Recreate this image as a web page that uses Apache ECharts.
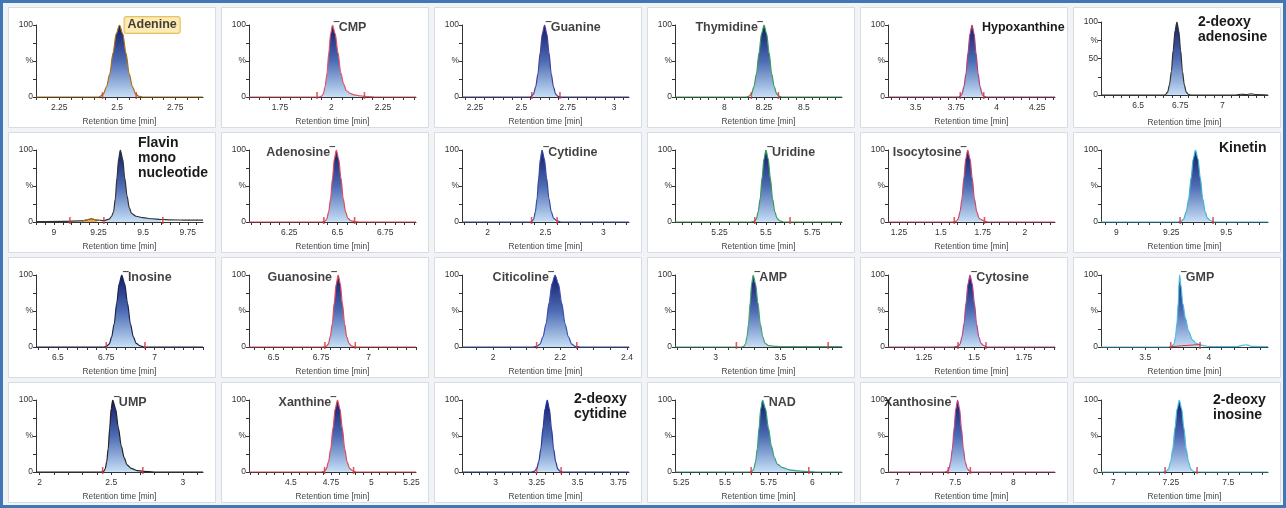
<!DOCTYPE html>
<html><head><meta charset="utf-8">
<script src="https://cdn.jsdelivr.net/npm/echarts@6/dist/echarts.min.js"></script>
<style>html,body{margin:0;padding:0;background:#f1f3f6}#c{width:1286px;height:508px}</style>
</head><body><div id="c"></div>
<script>
// ---------- DATA ----------
const compounds = ['Adenine','CMP','Guanine','Thymidine','Hypoxanthine','2-deoxy\nadenosine',
  'Flavin\nmono\nnucleotide','Adenosine','Cytidine','Uridine','Isocytosine','Kinetin',
  'Inosine','Guanosine','Citicoline','AMP','Cytosine','GMP',
  'UMP','Xanthine','2-deoxy\ncytidine','NAD','Xanthosine','2-deoxy\ninosine'];

const xMins = [2.15,1.6,2.18,7.69,3.33,6.28, 8.9,6.04,1.78,5.01,1.185,8.93, 6.387,6.37,1.907,2.685,1.07,3.153, 1.975,4.24,2.794,5.214,6.92,6.946];
const xMaxs = [2.87,2.41,3.08,8.74,4.36,7.27, 9.835,6.91,3.22,5.91,2.18,9.69, 7.25,7.25,2.406,3.977,1.905,4.463, 3.14,5.278,3.815,6.17,8.36,7.673];

const tickLabels = [
  [2.25,2.5,2.75],[1.75,2,2.25],[2.25,2.5,2.75,3],[8,8.25,8.5],[3.5,3.75,4,4.25],[6.5,6.75,7],
  [9,9.25,9.5,9.75],[6.25,6.5,6.75],[2,2.5,3],[5.25,5.5,5.75],[1.25,1.5,1.75,2],[9,9.25,9.5],
  [6.5,6.75,7],[6.5,6.75,7],[2,2.2,2.4],[3,3.5],[1.25,1.5,1.75],[3.5,4],
  [2,2.5,3],[4.5,4.75,5,5.25],[3,3.25,3.5,3.75],[5.25,5.5,5.75,6],[7,7.5,8],[7,7.25,7.5]];
const minorSteps = [0.05,0.05,0.05,0.05,0.05,0.05, 0.05,0.05,0.1,0.05,0.05,0.05, 0.05,0.05,0.05,0.1,0.05,0.1, 0.1,0.05,0.05,0.05,0.1,0.05];

const trAdenine = [[2.15,0],[2.42,0],[2.426,1],[2.44,4],[2.454,14],[2.468,32],[2.482,61],[2.496,88],[2.51,100],[2.524,88],[2.538,61],[2.552,32],[2.566,14],[2.58,4],[2.594,1],[2.61,0],[2.87,0]];
const trCMP = [[1.6,0],[1.94,0],[1.951,1],[1.96,4],[1.969,14],[1.978,32],[1.987,61],[1.996,88],[2.005,100],[2.018,88],[2.032,61],[2.045,34],[2.059,18],[2.072,9],[2.09,5],[2.11,3],[2.14,1.5],[2.18,0.5],[2.22,0],[2.41,0]];
const trGuanine = [[2.18,0],[2.545,0],[2.553,1],[2.565,4],[2.577,14],[2.589,32],[2.601,61],[2.613,88],[2.625,100],[2.637,88],[2.649,61],[2.661,32],[2.673,14],[2.685,4],[2.697,1],[2.71,0],[3.08,0]];
const trThymidine = [[7.69,0],[8.14,0],[8.154,1],[8.17,4],[8.186,14],[8.202,32],[8.218,61],[8.234,88],[8.25,100],[8.266,88],[8.282,61],[8.298,32],[8.314,14],[8.33,4],[8.346,1],[8.36,0],[8.74,0]];
const trHypoxanthine = [[3.33,0],[3.765,0],[3.773,1],[3.786,4],[3.798,14],[3.811,32],[3.823,61],[3.836,88],[3.848,100],[3.861,88],[3.873,61],[3.886,32],[3.898,14],[3.911,4],[3.923,1],[3.935,0],[4.36,0]];
const trDeoxyAdenosine = [[6.28,0],[6.655,0],[6.664,1],[6.675,4],[6.686,14],[6.697,32],[6.708,61],[6.719,88],[6.73,100],[6.741,88],[6.752,61],[6.763,32],[6.774,14],[6.785,4],[6.796,1],[6.81,0],[7.08,0],[7.11,1],[7.14,0.5],[7.17,1.5],[7.2,0.5],[7.27,0]];
const trFlavin = [[8.9,0.5],[9.05,1],[9.15,1.5],[9.18,2.5],[9.21,4.5],[9.24,2.5],[9.28,2],[9.31,4],[9.323,8],[9.334,14],[9.344,32],[9.353,61],[9.363,88],[9.372,100],[9.385,88],[9.397,61],[9.41,36],[9.422,20],[9.435,12],[9.46,8],[9.5,6],[9.55,4.5],[9.6,3.5],[9.65,3],[9.75,2.5],[9.835,2.5]];
const trAdenosine = [[6.04,0],[6.42,0],[6.435,1],[6.445,4],[6.455,14],[6.465,32],[6.475,61],[6.485,88],[6.495,100],[6.507,88],[6.519,61],[6.531,32],[6.543,14],[6.555,5],[6.57,2],[6.59,0.5],[6.62,0],[6.91,0]];
const trCytidine = [[1.78,0],[2.37,0],[2.383,1],[2.398,4],[2.412,14],[2.427,32],[2.441,61],[2.456,88],[2.47,100],[2.49,88],[2.51,61],[2.53,32],[2.55,14],[2.57,5],[2.6,1.5],[2.64,0],[3.22,0]];
const trUridine = [[5.01,0],[5.42,0],[5.437,1],[5.448,4],[5.458,14],[5.469,32],[5.479,61],[5.49,88],[5.5,100],[5.512,88],[5.524,61],[5.536,32],[5.548,14],[5.56,5],[5.575,1.5],[5.6,0],[5.91,0]];
const trIsocytosine = [[1.185,0],[1.57,0],[1.591,1],[1.6025,4],[1.614,14],[1.6255,32],[1.637,61],[1.6485,88],[1.66,100],[1.6735,88],[1.687,61],[1.7,32],[1.714,14],[1.728,5],[1.745,3],[1.76,1],[1.78,0],[2.18,0]];
const trKinetin = [[8.93,0],[9.28,0],[9.295,1],[9.306,4],[9.318,14],[9.329,32],[9.34,61],[9.35,88],[9.36,100],[9.371,88],[9.382,61],[9.393,32],[9.404,14],[9.415,5],[9.43,1.5],[9.45,0],[9.69,0]];
const trInosine = [[6.387,0],[6.74,0],[6.752,1],[6.765,4],[6.778,14],[6.791,32],[6.804,61],[6.817,88],[6.83,100],[6.845,88],[6.86,61],[6.875,32],[6.89,14],[6.905,5],[6.925,1.5],[6.95,0],[7.25,0]];
const trGuanosine = [[6.37,0],[6.76,0],[6.777,1],[6.788,4],[6.798,14],[6.809,32],[6.819,61],[6.83,88],[6.84,100],[6.851,88],[6.862,61],[6.874,32],[6.885,14],[6.897,5],[6.91,1.5],[6.93,0],[7.25,0]];
const trCiticoline = [[1.907,0],[2.12,0],[2.131,1],[2.14,4],[2.149,14],[2.158,32],[2.167,61],[2.176,88],[2.185,100],[2.195,88],[2.205,61],[2.215,32],[2.225,14],[2.235,4],[2.245,1],[2.26,0],[2.406,0]];
const trAMP = [[2.685,0],[3.2,0],[3.218,1],[3.23,4],[3.242,14],[3.254,32],[3.266,61],[3.278,88],[3.29,100],[3.308,88],[3.327,61],[3.345,32],[3.364,14],[3.382,5],[3.41,2],[3.45,1],[3.5,0.5],[3.7,0.5],[3.977,0.5]];
const trCytosine = [[1.07,0],[1.4,0],[1.42,1],[1.43,4],[1.44,14],[1.45,32],[1.46,61],[1.47,88],[1.48,100],[1.491,88],[1.502,61],[1.513,32],[1.524,14],[1.535,5],[1.55,1.5],[1.57,0],[1.905,0]];
const trGMP = [[3.153,0],[3.68,0],[3.705,1],[3.726,4],[3.737,14],[3.748,32],[3.759,61],[3.765,88],[3.77,100],[3.78,85],[3.795,60],[3.815,40],[3.84,22],[3.87,10],[3.9,5],[3.93,3],[3.97,1.5],[4.0,0.5],[4.22,0.5],[4.27,2.5],[4.3,3],[4.33,1],[4.463,0.5]];
const trUMP = [[1.975,0],[2.43,0],[2.447,1],[2.4575,4],[2.468,14],[2.4785,32],[2.489,61],[2.4995,88],[2.51,100],[2.53,88],[2.55,61],[2.57,36],[2.59,20],[2.61,10],[2.64,5],[2.68,2],[2.72,1],[2.8,0],[3.14,0]];
const trXanthine = [[4.24,0],[4.69,0],[4.706,1],[4.72,4],[4.734,14],[4.748,32],[4.762,61],[4.776,88],[4.79,100],[4.805,88],[4.82,61],[4.835,32],[4.85,14],[4.865,5],[4.885,1.5],[4.91,0],[5.278,0]];
const trDeoxyCytidine = [[2.794,0],[3.22,0],[3.237,1],[3.25,4],[3.263,14],[3.276,32],[3.289,61],[3.302,88],[3.315,100],[3.328,88],[3.341,61],[3.354,32],[3.367,14],[3.38,4],[3.393,1],[3.41,0],[3.815,0]];
const trNAD = [[5.214,0],[5.64,0],[5.655,1],[5.665,4],[5.675,14],[5.685,32],[5.695,61],[5.705,88],[5.715,100],[5.732,88],[5.749,61],[5.766,36],[5.783,20],[5.8,11],[5.83,6],[5.87,3],[5.92,1.5],[5.98,0.5],[6.03,0],[6.17,0]];
const trXanthosine = [[6.92,0],[7.41,0],[7.43,1],[7.445,4],[7.46,14],[7.475,32],[7.49,61],[7.505,88],[7.52,100],[7.537,88],[7.553,61],[7.57,32],[7.586,14],[7.603,5],[7.62,1.5],[7.64,0],[8.36,0]];
const trDeoxyInosine = [[6.946,0],[7.215,0],[7.23,1],[7.2395,4],[7.249,14],[7.2585,32],[7.268,61],[7.2775,88],[7.287,100],[7.297,88],[7.307,61],[7.317,32],[7.327,14],[7.337,4],[7.347,1],[7.36,0],[7.673,0]];

const traces = [trAdenine,trCMP,trGuanine,trThymidine,trHypoxanthine,trDeoxyAdenosine,
  trFlavin,trAdenosine,trCytidine,trUridine,trIsocytosine,trKinetin,
  trInosine,trGuanosine,trCiticoline,trAMP,trCytosine,trGMP,
  trUMP,trXanthine,trDeoxyCytidine,trNAD,trXanthosine,trDeoxyInosine];

// integrated (filled) range of each peak
const areaRanges = [[2.426,2.594],[1.94,2.16],[2.553,2.71],[8.17,8.33],[3.773,3.923],[6.664,6.796],
  [9.28,9.61],[6.435,6.59],[2.383,2.6],[5.437,5.6],[1.591,1.76],[9.295,9.43],
  [6.752,6.95],[6.777,6.93],[2.131,2.245],[3.218,3.5],[1.42,1.55],[3.705,3.93],
  [2.447,2.72],[4.706,4.885],[3.25,3.393],[5.655,5.98],[7.43,7.62],[7.23,7.347]];
// integration markers (retention times)
const markTimes = [[2.437,2.582],[1.93,2.16],[2.556,2.708],[8.17,8.34],[3.776,3.92],[],
  [9.09,9.28,9.61],[6.43,6.59],[2.38,2.6],[5.44,5.63],[1.58,1.76],[9.29,9.44],
  [6.75,6.95],[6.77,6.93],[2.13,2.25],[3.16,3.87],[1.42,1.56],[3.70,3.93],
  [2.44,2.72],[4.71,4.89],[3.25,3.4],[5.65,5.98],[7.44,7.63],[7.225,7.364]];
const flavinBump = [[9.16,1.5],[9.185,3],[9.21,4.5],[9.235,3],[9.26,2]];
const gmpBaseline = [[3.70,0.5],[3.93,3.5]];

// ---------- STYLE ----------
const lineColors = ['#a8730f','#e05468','#4a3f95','#3f9a5c','#b0407a','#333333',
  '#333333','#e04a5a','#3a4aa0','#3a9a5a','#d04a6a','#3fb4cf',
  '#1a2550','#e04a5a','#3a50b0','#4aa070','#b04a8a','#4cbde0',
  '#222222','#e04a5a','#2a3a9a','#34a080','#c04a8a','#4cbde0'];
const labelKind = ['box','right','right','left','corner','corner','corner','left','right','right','left','corner',
  'right','left','left','right','right','right','right','left','corner','right','left','corner'];
const cornerOffset = {4:[94,-5,12.5],5:[97,-11,14],6:[102,-15,14],11:[118,-10,14],20:[112,-9,14],23:[112,-8,14]};
const FONT = 'Liberation Sans';

const grids=[], xAxes=[], yAxes=[], series=[], graphics=[];
graphics.push({type:'rect', z:-20, shape:{x:1.5,y:1.5,width:1283,height:505}, style:{fill:'#f1f3f6', stroke:'#3f78b5', lineWidth:3}});

for (let i=0;i<24;i++){
  const r=Math.floor(i/6), c=i%6;
  const left=36+213*c;
  const top = 25+125*r + (i===5?-3:0);
  const h = (i===5)?73:72;
  grids.push({left:left, top:top, width:167, height:h});
  graphics.push({type:'rect', z:-10, shape:{x:left-27.5, y:25+125*r-17.5, width:207, height:120}, style:{fill:'#ffffff', stroke:'#d6dce4', lineWidth:1}});

  const step=minorSteps[i], ticks=[];
  for (let k=Math.ceil(xMins[i]/step-1e-9); k*step<=xMaxs[i]+1e-9; k++) ticks.push(+(k*step).toFixed(4));

  xAxes.push({type:'value', gridIndex:i, min:xMins[i], max:xMaxs[i],
    name:'Retention time [min]', nameLocation:'middle', nameGap:(i===5)?24:21,
    nameTextStyle:{fontFamily:FONT, fontSize:8.3, color:'#444'},
    axisLine:{show:true, onZero:false, lineStyle:{color:'#333', width:1}},
    axisTick:{show:true, customValues:ticks, length:3, lineStyle:{color:'#333'}},
    axisLabel:{customValues:tickLabels[i], formatter:v=>String(v), fontFamily:FONT, fontSize:8.5, color:'#333', margin:6, showMinLabel:true, showMaxLabel:true},
    splitLine:{show:false}});
  const yLab = (i===5)? {0:'0',50:'50',75:'%',100:'100'} : {0:'0',50:'%',100:'100'};
  yAxes.push({type:'value', gridIndex:i, min:0, max:100, interval:25,
    axisLine:{show:true, lineStyle:{color:'#333', width:1}},
    axisTick:{show:true, length:3, lineStyle:{color:'#333'}},
    axisLabel:{formatter:v=>yLab[v]||'', fontFamily:FONT, fontSize:8.5, color:'#333', margin:3},
    splitLine:{show:false}});

  const tr = traces[i];
  const ar = areaRanges[i];
  const areaData = tr.filter(p=>p[0]>=ar[0]-1e-9 && p[0]<=ar[1]+1e-9);
  const grad = new echarts.graphic.LinearGradient(0,0,0,1,[{offset:0,color:'#111a6a'},{offset:0.5,color:'#4d6cb4'},{offset:1,color:'#c6dff6'}]);
  series.push({type:'line', xAxisIndex:i, yAxisIndex:i, data:areaData, showSymbol:false, smooth:0.3, smoothMonotone:'x',
    lineStyle:{width:0}, areaStyle:{color:grad, opacity:1}, z:2, silent:true, animation:false});
  series.push({type:'line', xAxisIndex:i, yAxisIndex:i, data:tr, showSymbol:false, smooth:0.3, smoothMonotone:'x',
    lineStyle:{width:1.2, color:lineColors[i]}, z:3, silent:true, animation:false});
  if (markTimes[i].length){
    series.push({type:'scatter', xAxisIndex:i, yAxisIndex:i, data:markTimes[i].map(t=>[t,0]), symbol:'rect', symbolSize:[1.6,7], symbolOffset:[0,-1.5],
      itemStyle:{color:'#d8343c'}, z:4, silent:true, animation:false});
  }
  // label at apex
  const kind = labelKind[i];
  const apex = tr.reduce((a,b)=>b[1]>a[1]?b:a);
  if (kind!=='corner'){
    const name = compounds[i];
    const lab = {show:true, fontFamily:FONT, fontWeight:'bold', fontSize:12.5, color:'#111', distance:2};
    if (kind==='box'){
      Object.assign(lab,{position:'right', distance:5, formatter:name, backgroundColor:'#fbe6a2', borderColor:'#e1b144', borderWidth:1, borderRadius:2, padding:[2,3,1,3]});
    } else if (kind==='right'){
      Object.assign(lab,{position:'right', offset:[0,3], formatter:'\u203E'+name});
    } else {
      Object.assign(lab,{position:'left', offset:[0,3], formatter:name+'\u203E'});
    }
    series.push({type:'scatter', xAxisIndex:i, yAxisIndex:i, data:[apex], symbolSize:0, label:lab, z:6, silent:true, animation:false});
  } else {
    const o = cornerOffset[i];
    graphics.push({type:'text', z:50, left:left+o[0], top:25+125*r+o[1], style:{text:compounds[i], font:'bold '+o[2]+'px "'+FONT+'"', fill:'#1a1a1a', lineHeight:15.3}});
  }
  if (i===6){
    series.push({type:'line', xAxisIndex:i, yAxisIndex:i, data:flavinBump, showSymbol:false, smooth:0.4,
      lineStyle:{width:1, color:'#c0781e'}, areaStyle:{color:'#e6a24a', opacity:0.9}, z:3, silent:true, animation:false});
  }
  if (i===17){
    series.push({type:'line', xAxisIndex:i, yAxisIndex:i, data:gmpBaseline, showSymbol:false,
      lineStyle:{width:1, color:'#d8343c'}, z:4, silent:true, animation:false});
  }
}

const chart = echarts.init(document.getElementById('c'), null, {renderer:'canvas'});
chart.setOption({animation:false, backgroundColor:'#f1f3f6', grid:grids, xAxis:xAxes, yAxis:yAxes, series:series, graphic:graphics});
</script></body></html>
